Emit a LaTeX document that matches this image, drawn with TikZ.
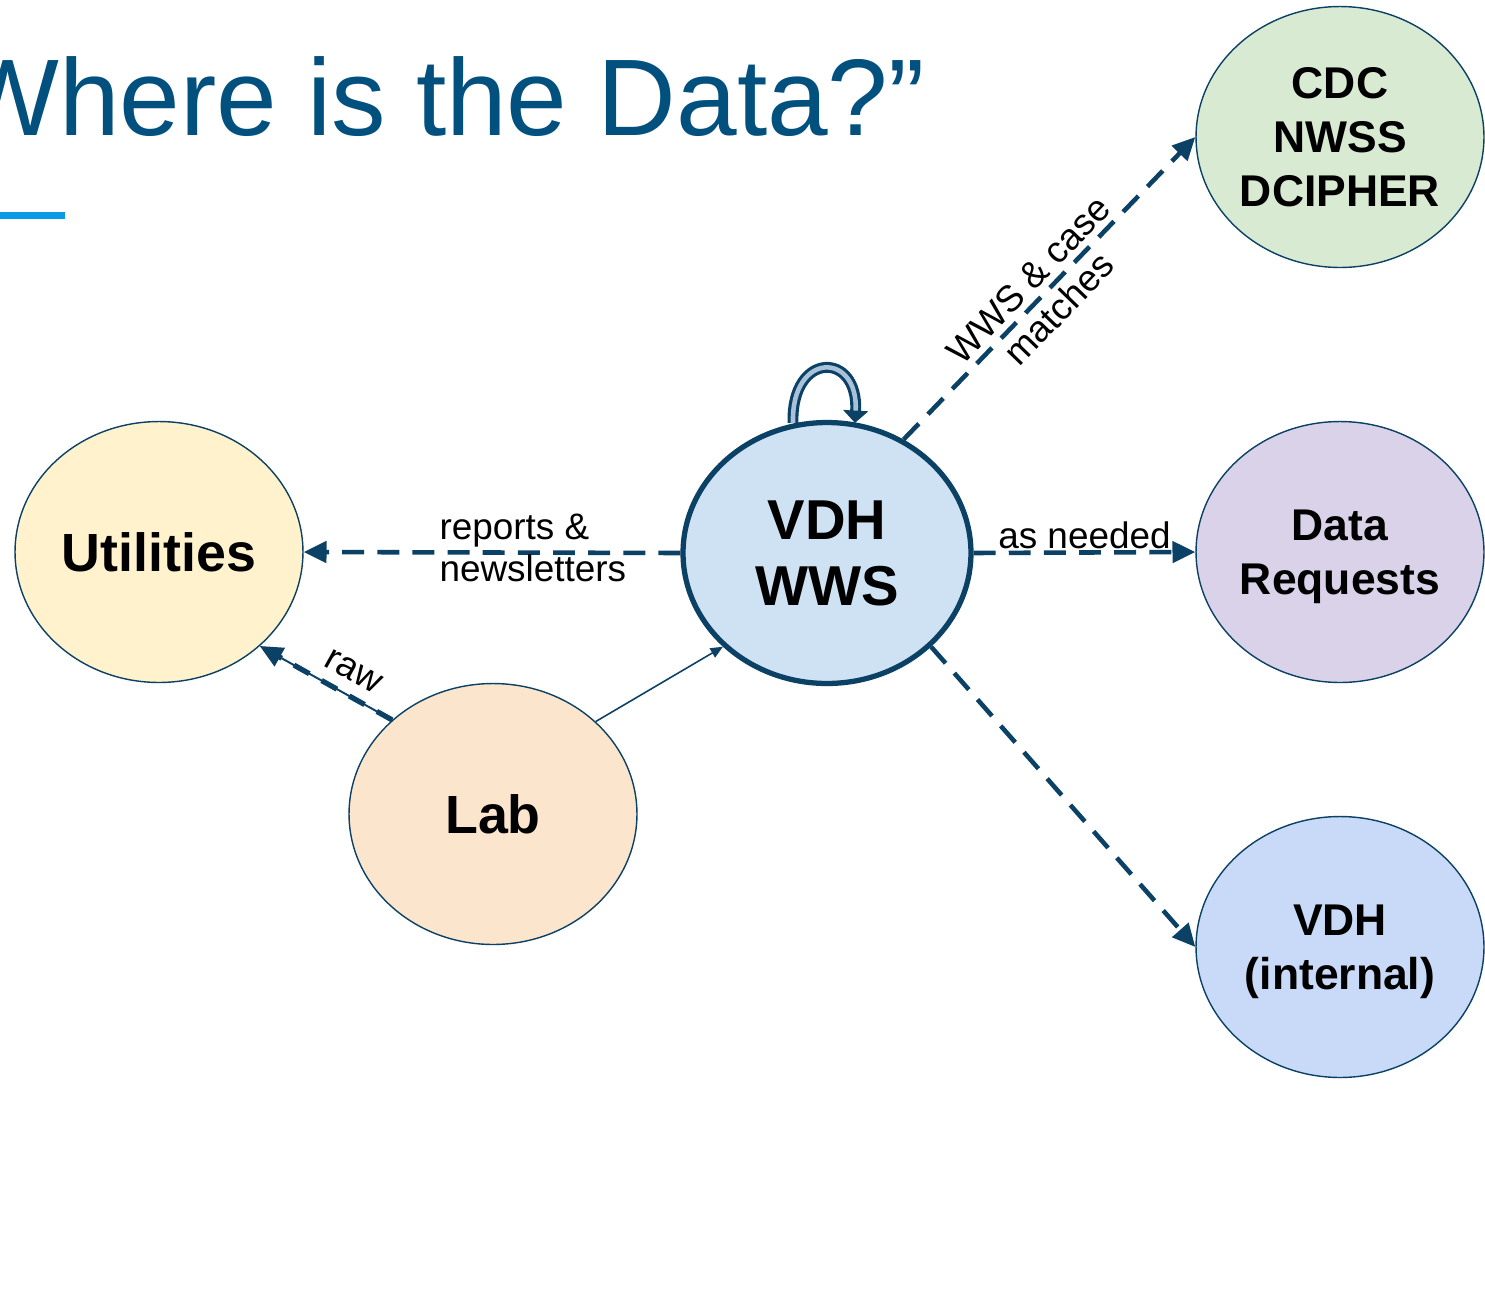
\documentclass[tikz,border=0pt]{standalone}
\usepackage{fontspec}
\setmainfont{Liberation Sans}
\usetikzlibrary{shapes.geometric,arrows.meta,calc}
\definecolor{edgeblue}{HTML}{0B4165}
\definecolor{titleblue}{HTML}{02507E}
\definecolor{accentblue}{HTML}{0B9BE6}
\definecolor{utilfill}{HTML}{FFF2CC}
\definecolor{labfill}{HTML}{FCE5CD}
\definecolor{wwsfill}{HTML}{CFE2F3}
\definecolor{cdcfill}{HTML}{D9EAD3}
\definecolor{reqfill}{HTML}{D9D2E9}
\definecolor{vdhfill}{HTML}{C9DAF8}
\definecolor{loopfill}{HTML}{A9C2DA}

\begin{document}
\begin{tikzpicture}[x=0.02cm, y=-0.02cm,
  blob/.style={ellipse, draw=edgeblue, line width=0.8pt, minimum width=5.76cm, minimum height=5.22cm,
    inner sep=0pt, text depth=0pt, align=center, font=\bfseries\fontsize{25.3}{30.6}\selectfont},
  bigblob/.style={blob, font=\bfseries\fontsize{30.6}{37}\selectfont},
  flow/.style={draw=edgeblue, line width=2.6pt, dash pattern=on 12.5pt off 7.5pt,
    -{Triangle[length=13pt,width=12pt]}},
  rawflow/.style={draw=edgeblue, line width=1.1pt, -{Triangle[length=13pt,width=12pt]},
    postaction={draw=edgeblue, -, line width=3pt, dash pattern=on 10pt off 8pt}},
  tag/.style={font=\fontsize{21}{24}\selectfont, inner sep=1pt}]

\useasboundingbox (0,0) rectangle (1485,1289);

\node [anchor=base west, text=titleblue, font=\fontsize{62}{62}\selectfont] (title) at (-50,135) {Where is the Data?”};
\fill [accentblue] (0,212) rectangle (65,219);

\node [bigblob, fill=utilfill] (util) at (159,552) {Utilities};
\node [bigblob, fill=labfill] (lab) at (493,814) {Lab};
\node [bigblob, fill=wwsfill, line width=3pt, font=\bfseries\fontsize{32}{37.4}\selectfont] (wws) at (827,553) {VDH\\WWS};
\node [blob, fill=cdcfill] (cdc) at (1340,137) {CDC\\NWSS\\DCIPHER};
\node [blob, fill=reqfill] (req) at (1340,552) {Data\\Requests};
\node [blob, fill=vdhfill] (vdh) at (1340,947) {VDH\\(internal)};

\draw [flow] (wws.west) -- node [tag, align=left, anchor=west, pos=0.65, yshift=2.5pt] {reports \&\\newsletters} (util.east);
\draw [flow] (wws.east) -- node [tag, above] {as needed} (req.west);
\draw [flow] (wws.56) -- node [tag, align=center, sloped, pos=0.48] {WWS \& case\\matches} (cdc.west);
\draw [flow] (wws.318) -- (vdh.west);

\draw [rawflow] (lab.137) -- node [tag, sloped, above=6pt, pos=0.38] {raw} (util.317);
\draw [edgeblue, line width=0.9pt, -{Triangle[length=7pt,width=6pt]}] (lab.42) -- (wws.222);

\draw [edgeblue, line width=1.8pt, double=loopfill, double distance=2.6pt, -{Triangle[length=7pt,width=14pt]}]
  ($(wws.north)+(-34,3)$) .. controls +(-2,-72) and +(4,-72) .. ($(wws.north)+(28,3)$);

\end{tikzpicture}
\end{document}
